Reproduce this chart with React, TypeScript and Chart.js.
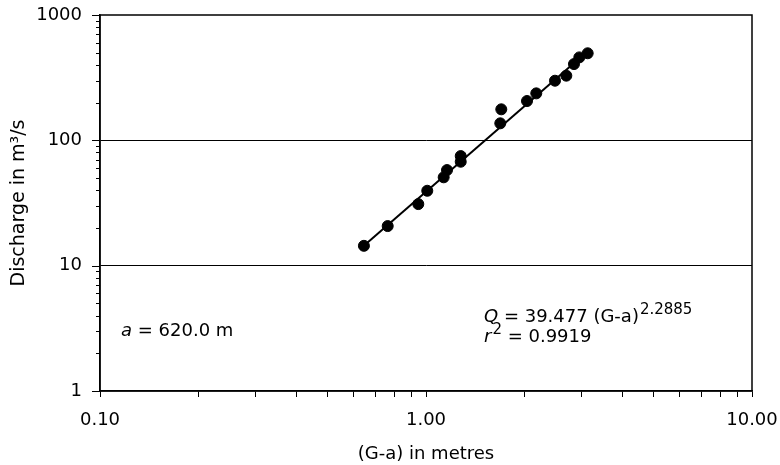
import React, { useEffect, useRef } from 'react';
import { Chart, registerables } from 'chart.js';

Chart.register(...registerables);

// (G-a) in metres and discharge in m3/s
const gaMetres = [0.645, 0.763, 0.947, 1.009, 1.133, 1.16, 1.278, 1.278, 1.69, 1.702, 2.041, 2.179, 2.487, 2.694, 2.844, 2.953, 3.133];
const dischargeQ = [14.4, 20.7, 31.0, 39.6, 50.7, 57.9, 67.5, 74.9, 136.7, 176.8, 205.9, 237, 299, 328, 406, 459, 495];

// fitted rating line end points
const fitGa = [0.65, 3.12];
const fitQ = [14.7, 510];

// axes
const xTickValues = [0.1, 0.2, 0.3, 0.4, 0.5, 0.6, 0.7, 0.8, 0.9, 1, 2, 3, 4, 5, 6, 7, 8, 9, 10];
const yTickValues = [1, 2, 3, 4, 5, 6, 7, 8, 9, 10, 20, 30, 40, 50, 60, 70, 80, 90, 100, 200, 300, 400, 500, 600, 700, 800, 900, 1000];
const xLabelValues = [0.1, 1, 10];
const xLabelTexts = ['0.10', '1.00', '10.00'];
const yLabelValues = [1, 10, 100, 1000];
const yLabelTexts = ['1', '10', '100', '1000'];
const yGridValues = [10, 100];

const FAMILY = '"DejaVu Sans"';
const SIZE = 18;
const SUP = 15;

type Run = { text: string; italic?: boolean; sup?: boolean; gap?: number };

function drawRuns(ctx: CanvasRenderingContext2D, x: number, y: number, runs: Run[]) {
  let cx = x;
  runs.forEach((r) => {
    const size = r.sup ? SUP : SIZE;
    cx += r.gap || 0;
    ctx.font = `${r.italic ? 'italic ' : ''}${size}px ${FAMILY}`;
    ctx.fillText(r.text, cx, r.sup ? y - 8 : y);
    cx += ctx.measureText(r.text).width;
  });
}

const framePlugin = {
  id: 'frame',
  afterDraw(chart: any) {
    const { ctx, chartArea: ca, scales } = chart;
    const y = scales.y;
    ctx.save();
    ctx.strokeStyle = '#000';
    ctx.lineWidth = 1;
    yTickValues.forEach((v) => {
      const py = Math.round(y.getPixelForValue(v)) + 0.5;
      const len = yLabelValues.includes(v) ? 8 : 4;
      ctx.beginPath();
      ctx.moveTo(ca.left - len, py);
      ctx.lineTo(ca.left, py);
      ctx.stroke();
    });
    ctx.lineWidth = 1.5;
    ctx.strokeRect(ca.left, ca.top, ca.right - ca.left, ca.bottom - ca.top);

    ctx.fillStyle = '#000';
    ctx.textBaseline = 'alphabetic';
    ctx.textAlign = 'left';
    drawRuns(ctx, ca.left + 21, 336, [
      { text: 'a', italic: true },
      { text: ' = 620.0 m' },
    ]);
    drawRuns(ctx, 484, 322, [
      { text: 'Q', italic: true },
      { text: ' = 39.477 (G-a)' },
      { text: '2.2885', sup: true, gap: 1 },
    ]);
    drawRuns(ctx, 484, 342, [
      { text: 'r', italic: true },
      { text: '2', sup: true, gap: 1 },
      { text: ' = 0.9919' },
    ]);
    ctx.restore();
  },
};

export default function App() {
  const ref = useRef<HTMLCanvasElement>(null);

  useEffect(() => {
    if (!ref.current) return;
    Chart.defaults.font.family = FAMILY;
    Chart.defaults.font.size = SIZE;
    Chart.defaults.color = '#000';

    const chart = new Chart(ref.current, {
      type: 'scatter',
      data: {
        datasets: [
          {
            label: 'Observed',
            data: gaMetres.map((g, i) => ({ x: g, y: dischargeQ[i] })),
            backgroundColor: '#000',
            borderColor: '#000',
            pointRadius: 5.5,
            pointHoverRadius: 5.5,
          },
          {
            type: 'line',
            label: 'Fit',
            data: fitGa.map((g, i) => ({ x: g, y: fitQ[i] })),
            borderColor: '#000',
            borderWidth: 2,
            pointRadius: 0,
            fill: false,
          } as any,
        ],
      },
      options: {
        animation: false,
        responsive: false,
        events: [],
        layout: { padding: { top: 15, right: 28, left: 0, bottom: 0 } },
        plugins: {
          legend: { display: false },
          tooltip: { enabled: false },
        },
        scales: {
          x: {
            type: 'logarithmic',
            min: 0.1,
            max: 10,
            afterBuildTicks: (scale: any) => {
              scale.ticks = xTickValues.map((v) => ({ value: v }));
            },
            afterFit: (scale: any) => {
              scale.height = 74;
              scale.paddingLeft = 0;
              scale.paddingRight = 0;
            },
            ticks: {
              autoSkip: false,
              maxRotation: 0,
              padding: 13,
              color: '#000',
              callback: (value: any) => {
                const i = xLabelValues.indexOf(Number(value));
                return i >= 0 ? xLabelTexts[i] : '';
              },
            },
            grid: {
              drawOnChartArea: false,
              drawTicks: true,
              tickLength: 6,
              tickColor: '#000',
              tickWidth: 1,
            },
            border: { display: true, color: '#000', width: 1.5 },
            title: {
              display: true,
              text: '(G-a) in metres',
              color: '#000',
              padding: { top: 0, bottom: 0 },
            },
          },
          y: {
            type: 'logarithmic',
            min: 1,
            max: 1000,
            afterBuildTicks: (scale: any) => {
              scale.ticks = yTickValues.map((v) => ({ value: v }));
            },
            afterFit: (scale: any) => {
              scale.width = 100;
              scale.paddingTop = 0;
              scale.paddingBottom = 0;
            },
            ticks: {
              autoSkip: false,
              padding: 18,
              color: '#000',
              callback: (value: any) => {
                const i = yLabelValues.indexOf(Number(value));
                return i >= 0 ? yLabelTexts[i] : '';
              },
            },
            grid: {
              drawTicks: false,
              color: (ctx: any) => (yGridValues.includes(ctx.tick?.value) ? '#000' : 'rgba(0,0,0,0)'),
              lineWidth: 1,
            },
            border: { display: true, color: '#000', width: 1.5 },
            title: {
              display: true,
              text: 'Discharge in m³/s',
              color: '#000',
              font: { size: 19 },
              padding: { top: 8, bottom: 0 },
            },
          },
        },
      },
      plugins: [framePlugin],
    });
    return () => chart.destroy();
  }, []);

  return (
    <div style={{ position: 'fixed', left: 0, top: 0, width: 780, height: 465, background: '#fff' }}>
      <canvas ref={ref} width={780} height={465} style={{ display: 'block' }} />
    </div>
  );
}
